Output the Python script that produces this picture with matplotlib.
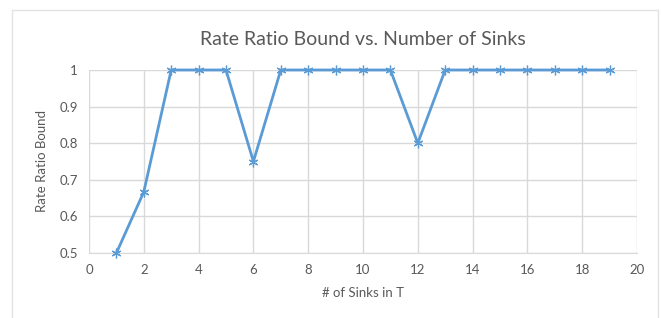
import matplotlib.pyplot as plt
from matplotlib.patches import Rectangle

sinks = list(range(1, 20))
bound = [0.5, 0.667, 1, 1, 1, 0.75, 1, 1, 1, 1, 1, 0.8, 1, 1, 1, 1, 1, 1, 1]
x_ticks = list(range(0, 21, 2))
y_ticks = [0.5, 0.6, 0.7, 0.8, 0.9, 1.0]
y_labels = ["0.5", "0.6", "0.7", "0.8", "0.9", "1"]

plt.rcParams['font.family'] = ['Lato', 'DejaVu Sans']
txt = '#595959'
grid = '#d9d9d9'

fig = plt.figure(figsize=(6.61, 3.18), dpi=100)
# outer chart-area border
fig.patches.append(Rectangle((12 / 661, -0.05), 646 / 661, 1 - 10 / 318 + 0.05,
                             transform=fig.transFigure, fill=False,
                             edgecolor='#e3e3e3', linewidth=1))

ax = fig.add_axes([89 / 661, 1 - 253 / 318, (637 - 89) / 661, (253 - 70) / 318])
ax.plot(sinks, bound, color='#5b9bd5', linewidth=2, marker=(6, 2, 0),
        markersize=7, markeredgewidth=0.9, clip_on=False, zorder=3)

ax.set_xlim(0, 20)
ax.set_ylim(0.5, 1)
ax.set_xticks(x_ticks)
ax.set_yticks(y_ticks)
ax.set_yticklabels(y_labels)
ax.grid(True, color=grid, linewidth=1)
for s in ['top', 'right', 'left']:
    ax.spines[s].set_visible(False)
ax.spines['bottom'].set_color(grid)
ax.tick_params(length=0, colors=txt, labelsize=9.5, pad=8)

ax.set_title("Rate Ratio Bound vs. Number of Sinks", color=txt, fontsize=14, pad=18)
ax.set_xlabel("# of Sinks in T", color=txt, fontsize=9.5, labelpad=8)
ax.set_ylabel("Rate Ratio Bound", color=txt, fontsize=9.5, labelpad=8)

fig.savefig("out.png", dpi=100)
